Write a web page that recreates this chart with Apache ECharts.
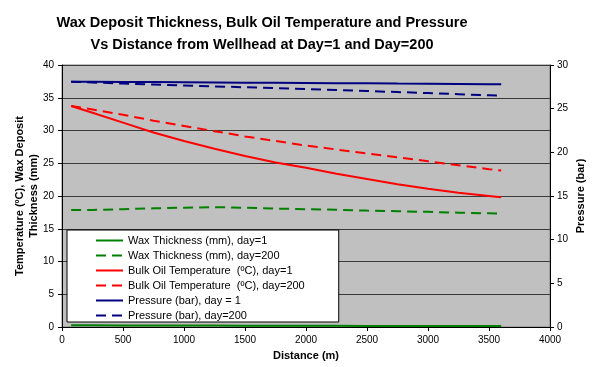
<!DOCTYPE html>
<html>
<head>
<meta charset="utf-8">
<script src="https://cdn.jsdelivr.net/npm/echarts@6/dist/echarts.min.js"></script>
<style>
  html, body { margin: 0; padding: 0; background: #fff; }
  #chart { width: 594px; height: 367px; }
</style>
</head>
<body>
<div id="chart"></div>
<script>
// distance from wellhead (m)
var distance = [75, 250, 500, 750, 1000, 1250, 1500, 1750, 2000, 2250, 2500, 2750, 3000, 3250, 3500, 3600]

// wax thickness (mm)
var waxDay1 = [0.25, 0.25, 0.24, 0.23, 0.22, 0.21, 0.2, 0.19, 0.18, 0.18, 0.17, 0.17, 0.16, 0.16, 0.15, 0.15]
var waxDay200 = [17.85, 17.87, 17.98, 18.12, 18.22, 18.3, 18.2, 18.08, 17.98, 17.9, 17.77, 17.67, 17.58, 17.45, 17.35, 17.3]

// bulk oil temperature (ºC)
var tempDay1 = [33.75, 32.7, 31.2, 29.7, 28.4, 27.2, 26.1, 25.1, 24.3, 23.4, 22.6, 21.8, 21.1, 20.5, 20.0, 19.8]
var tempDay200 = [33.75, 33.2, 32.4, 31.5, 30.7, 29.9, 29.1, 28.4, 27.7, 27.1, 26.5, 25.9, 25.3, 24.7, 24.1, 23.9]

// pressure (bar)
var pressDay1 = [28.09, 28.08, 28.06, 28.04, 28.02, 28.0, 27.98, 27.96, 27.94, 27.92, 27.9, 27.87, 27.85, 27.83, 27.8, 27.79]
var pressDay200 = [28.09, 28.0, 27.88, 27.77, 27.66, 27.55, 27.45, 27.35, 27.24, 27.13, 27.02, 26.9, 26.79, 26.66, 26.53, 26.48]

var FONT = '"Liberation Sans", Arial, sans-serif'
var DASH = [10, 6]

function pairs(ys) {
  var out = []
  for (var i = 0; i < distance.length; i++) {
    out.push([distance[i], ys[i]])
  }
  return out
}

function line(name, ys, color, dashed, axisIndex) {
  return {
    name: name,
    type: 'line',
    yAxisIndex: axisIndex,
    symbol: 'none',
    silent: true,
    animation: false,
    lineStyle: {
      color: color,
      width: 2,
      type: dashed ? DASH : 'solid'
    },
    itemStyle: { color: color },
    data: pairs(ys)
  }
}

// plain numbers, no thousands separator
function plain(v) {
  return String(v)
}

var chart = echarts.init(document.getElementById('chart'))
chart.setOption({
  animation: false,
  textStyle: { fontFamily: FONT },
  title: {
    text: 'Wax Deposit Thickness, Bulk Oil Temperature and Pressure\nVs Distance from Wellhead at Day=1 and Day=200',
    left: 257,
    top: 7,
    textAlign: 'center',
    textStyle: {
      fontFamily: FONT,
      fontSize: 14.5,
      fontWeight: 'bold',
      color: '#000',
      lineHeight: 22
    }
  },
  grid: {
    left: 62,
    right: 40,
    top: 65,
    bottom: 40,
    show: true,
    backgroundColor: '#c0c0c0',
    borderColor: '#808080',
    borderWidth: 1
  },
  legend: {
    orient: 'vertical',
    left: 67,
    top: 230,
    padding: [5, 34, 1, 28],
    itemGap: 4,
    itemWidth: 27,
    itemHeight: 10,
    backgroundColor: '#fff',
    borderColor: '#000',
    borderWidth: 1,
    itemStyle: { color: 'rgba(0,0,0,0)', borderWidth: 0, opacity: 0 },
    textStyle: { fontFamily: FONT, fontSize: 11, color: '#000' },
    data: [
      'Wax Thickness (mm), day=1',
      'Wax Thickness (mm), day=200',
      'Bulk Oil Temperature  (ºC), day=1',
      'Bulk Oil Temperature  (ºC), day=200',
      'Pressure (bar), day = 1',
      'Pressure (bar), day=200'
    ]
  },
  xAxis: {
    type: 'value',
    min: 0,
    max: 4000,
    interval: 500,
    name: 'Distance (m)',
    nameLocation: 'middle',
    nameGap: 23,
    nameTextStyle: { fontFamily: FONT, fontSize: 11, fontWeight: 'bold', color: '#000' },
    axisLine: { show: true, lineStyle: { color: '#000', width: 1 } },
    axisTick: { show: true, length: 4, lineStyle: { color: '#000' } },
    axisLabel: { fontFamily: FONT, fontSize: 10, color: '#000', margin: 8, formatter: plain },
    splitLine: { show: false }
  },
  yAxis: [
    {
      type: 'value',
      min: 0,
      max: 40,
      interval: 5,
      name: 'Temperature (ºC), Wax Deposit\nThickness (mm)',
      nameLocation: 'middle',
      nameGap: 21,
      nameMoveOverlap: false,
      nameTextStyle: { fontFamily: FONT, fontSize: 11, fontWeight: 'bold', color: '#000', lineHeight: 14 },
      axisLine: { show: true, lineStyle: { color: '#000', width: 1 } },
      axisTick: { show: true, length: 4, lineStyle: { color: '#000' } },
      axisLabel: { fontFamily: FONT, fontSize: 10, color: '#000', margin: 8 },
      splitLine: { show: true, lineStyle: { color: '#3a3a3a', width: 1 } }
    },
    {
      type: 'value',
      min: 0,
      max: 30,
      interval: 5,
      position: 'right',
      name: 'Pressure (bar)',
      nameLocation: 'middle',
      nameGap: 25,
      nameMoveOverlap: false,
      nameTextStyle: { fontFamily: FONT, fontSize: 11, fontWeight: 'bold', color: '#000' },
      axisLine: { show: true, lineStyle: { color: '#000', width: 1 } },
      axisTick: { show: true, length: 4, lineStyle: { color: '#000' } },
      axisLabel: { fontFamily: FONT, fontSize: 10, color: '#000', margin: 7 },
      splitLine: { show: false }
    }
  ],
  series: [
    line('Wax Thickness (mm), day=1', waxDay1, '#008000', false, 0),
    line('Wax Thickness (mm), day=200', waxDay200, '#008000', true, 0),
    line('Bulk Oil Temperature  (ºC), day=1', tempDay1, '#ff0000', false, 0),
    line('Bulk Oil Temperature  (ºC), day=200', tempDay200, '#ff0000', true, 0),
    line('Pressure (bar), day = 1', pressDay1, '#000080', false, 1),
    line('Pressure (bar), day=200', pressDay200, '#000080', true, 1)
  ]
})
</script>
</body>
</html>
